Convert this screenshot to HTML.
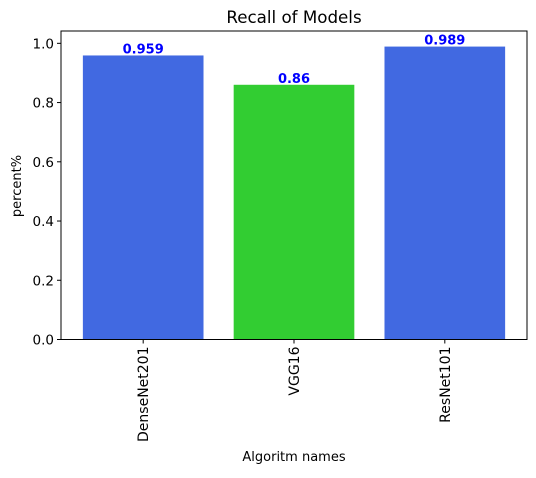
<!DOCTYPE html>
<html><head><meta charset="utf-8"><style>body{margin:0;background:#fff}svg text{font-family:"DejaVu Sans","Liberation Sans",sans-serif}</style></head>
<body>
<svg id="chart" width="536" height="473">
<text x="294" y="23" font-size="16.7" text-anchor="middle" fill="#000">Recall of Models</text>
<text x="294" y="461" font-size="13" text-anchor="middle" fill="#000">Algoritm names</text>
<text transform="translate(21,186) rotate(-90)" font-size="13" text-anchor="middle" fill="#000">percent%</text>
<g id="marks"></g>
<rect x="61" y="31" width="466" height="308.5" fill="none" stroke="#000" stroke-width="1"/>
</svg>
<script>
const categories=["DenseNet201","VGG16","ResNet101"];
const values=[0.959,0.86,0.989];
const labels=["0.959","0.86","0.989"];
const colors=["#4169e1","#32cd32","#4169e1"];
const yTicks=[0,0.2,0.4,0.6,0.8,1.0];
const yTickLabels=["0.0","0.2","0.4","0.6","0.8","1.0"];
const L=61,R=527,T=31,B=339.5;
const ymax=1.0416, xmin=-0.545, xmax=2.545;
const y=v=>B-(v/ymax)*(B-T);
const x=i=>L+(i-xmin)/(xmax-xmin)*(R-L);
const bw=0.8*(R-L)/(xmax-xmin);
const ns="http://www.w3.org/2000/svg";
const g=document.getElementById('marks');
function mk(t,a,txt){const e=document.createElementNS(ns,t);for(const k in a)e.setAttribute(k,a[k]);if(txt!==undefined)e.textContent=txt;g.appendChild(e);return e;}
values.forEach((v,i)=>{
 const b=mk('rect',{x:x(i)-bw/2,y:y(v),width:bw,height:B-y(v),fill:colors[i]});
 
 
 const l=mk('text',{x:x(i),y:y(v)-2,'font-size':13,'font-weight':'bold',fill:'#0000ff','text-anchor':'middle'},labels[i]);
 
 
 const tk=mk('line',{x1:x(i),x2:x(i),y1:B,y2:B+4,stroke:'#000'});
 
 
 const tl=mk('text',{transform:`translate(${x(i)+5},${B+7}) rotate(-90)`,'font-size':14,'text-anchor':'end',fill:'#000'},categories[i]);
 
 
});
yTicks.forEach((v,i)=>{
 const tk=mk('line',{x1:L-4,x2:L,y1:y(v),y2:y(v),stroke:'#000'});
 
 
 const tl=mk('text',{x:L-7,y:y(v)+5,'font-size':13.5,'text-anchor':'end',fill:'#000'},yTickLabels[i]);
 
 
});
</script>
</body></html>
